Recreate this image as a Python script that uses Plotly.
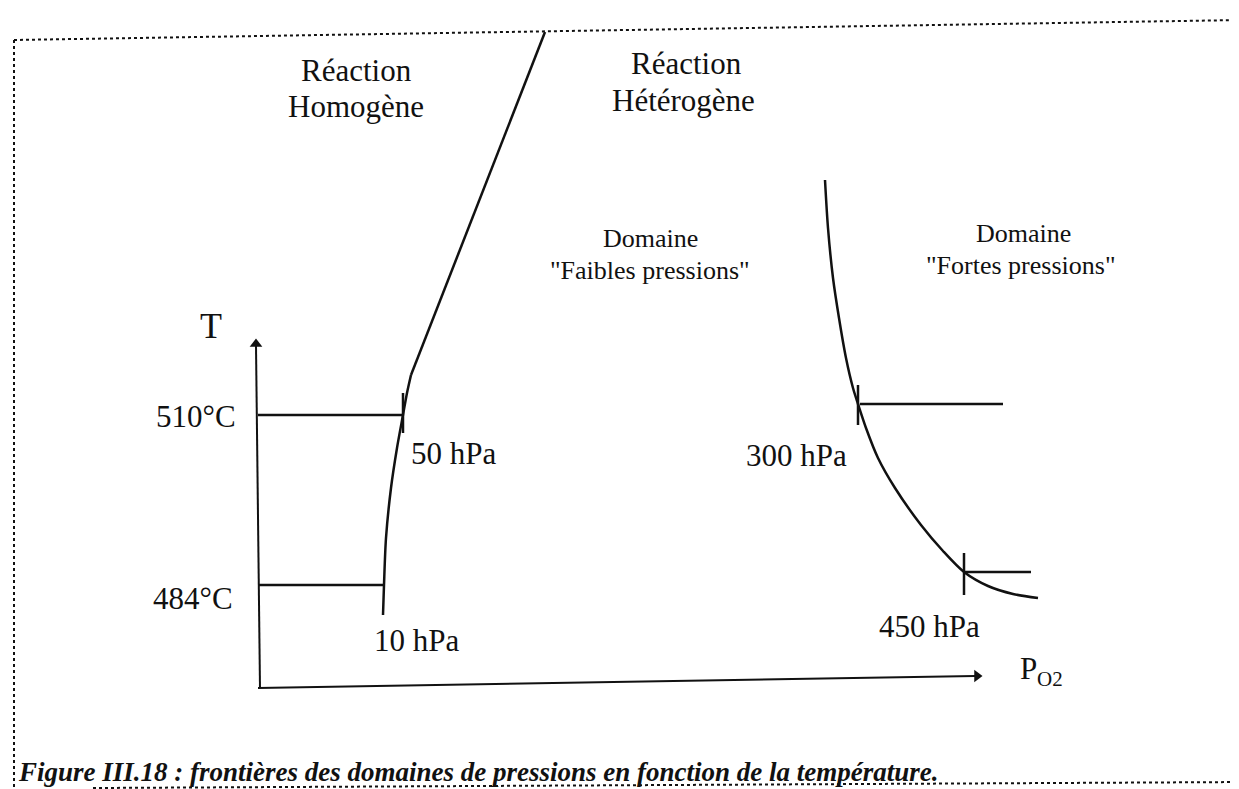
import plotly.graph_objects as go

# Schematic diagram: no numeric scale, values are in drawing units
# (x grows with P_O2, y grows with T)

# boundary homogeneous / heterogeneous reaction (curved part + straight part)
homog_curve_x = [37.5, 37.6, 37.8, 38.3, 38.9, 39.5, 39.9, 40.3]
homog_curve_y = [18.2, 21.2, 25.9, 30.9, 34.9, 38.2, 40.4, 42.2]
homog_line_x = [40.3, 53.7]
homog_line_y = [42.2, 76.5]

# boundary "faibles pressions" / "fortes pressions"
press_curve_x = [81.7, 82.0, 82.5, 83.1, 83.8, 84.5, 85.0, 85.8, 87.0, 88.7,
                 91.3, 93.5, 95.6, 98.0, 100.5, 103.0]
press_curve_y = [61.7, 56.9, 51.9, 47.9, 43.9, 40.9, 39.3, 36.9, 33.9, 30.9,
                 27.2, 24.6, 22.5, 21.1, 20.3, 19.9]

# temperature levels
temp_labels = ["510°C", "484°C"]
temp_y = [38.2, 21.2]
temp_x_end = [39.5, 37.6]

# pressure marks
press_labels = ["50 hPa", "10 hPa", "300 hPa", "450 hPa"]
press_label_x = [44.5, 40.8, 78.8, 92.1]
press_label_y = [34.4, 15.7, 34.2, 17.1]

# horizontal segments right of the high pressure boundary
high_seg_x0 = [85.2, 95.6]
high_seg_x1 = [99.5, 102.3]
high_seg_y = [39.3, 22.5]

# tick marks on the boundaries (x, y_low, y_high)
tick_x = [39.5, 85.0, 95.6]
tick_y0 = [36.4, 37.2, 20.2]
tick_y1 = [40.4, 41.2, 24.4]

# axes (T axis and P_O2 axis), origin and tips
t_axis_x = [25.2, 24.8]
t_axis_y = [10.9, 45.9]
p_axis_x = [25.0, 97.5]
p_axis_y = [10.9, 12.1]

ink = "#111111"
serif = "Liberation Serif, Times New Roman, serif"

fig = go.Figure()


def seg(x, y, width=2.5, shape="linear"):
    fig.add_trace(go.Scatter(x=x, y=y, mode="lines",
                             line=dict(color=ink, width=width, shape=shape, smoothing=0.8),
                             hoverinfo="skip"))


seg(homog_curve_x, homog_curve_y, shape="spline")
seg(homog_line_x, homog_line_y)
seg(press_curve_x, press_curve_y, shape="spline")

# temperature lines from the T axis to the boundary
for y, xe in zip(temp_y, temp_x_end):
    seg([25.0, xe], [y, y])

for x0, x1, y in zip(high_seg_x0, high_seg_x1, high_seg_y):
    seg([x0, x1], [y, y])

for x, y0, y1 in zip(tick_x, tick_y0, tick_y1):
    seg([x, x], [y0, y1])

# axes with arrow heads
seg([t_axis_x[0], t_axis_x[1]], [t_axis_y[0], t_axis_y[1] - 0.8], width=2)
seg([p_axis_x[0], p_axis_x[1] - 0.8], [p_axis_y[0], p_axis_y[1]], width=2)
fig.add_trace(go.Scatter(x=[t_axis_x[1]], y=[t_axis_y[1] - 0.6], mode="markers",
                         marker=dict(symbol="triangle-up", size=11, color=ink),
                         hoverinfo="skip"))
fig.add_trace(go.Scatter(x=[p_axis_x[1] - 0.6], y=[p_axis_y[1]], mode="markers",
                         marker=dict(symbol="triangle-right", size=11, color=ink),
                         hoverinfo="skip"))

annotations = []


def label(text, x, y, size=31, xanchor="center", **font_kw):
    annotations.append(dict(x=x, y=y, xref="x", yref="y", text=text, showarrow=False,
                            xanchor=xanchor, yanchor="middle",
                            font=dict(family=serif, size=size, color=ink, **font_kw)))


label("Réaction", 34.8, 72.7)
label("Homogène", 34.8, 69.1)
label("Réaction", 67.8, 73.4)
label("Hétérogène", 67.5, 69.7)
label("Domaine", 64.2, 55.9, size=26)
label("\"Faibles pressions\"", 64.2, 52.7, size=26)
label("Domaine", 101.5, 56.4, size=26)
label("\"Fortes pressions\"", 101.3, 53.2, size=26)
label("T", 20.3, 47.1, size=36)
label("P", 101.0, 12.9, size=31, xanchor="left")
label("O2", 102.7, 11.8, size=21, xanchor="left")

label(temp_labels[0], 23.0, temp_y[0] - 0.1, xanchor="right")
label(temp_labels[1], 22.7, temp_y[1] - 1.3, xanchor="right")

for t, x, y in zip(press_labels, press_label_x, press_label_y):
    label(t, x, y)

label("Figure III.18 : frontières des domaines de pressions en fonction de la température.",
      0.8, 2.5, size=27, xanchor="left", weight="bold", style="italic")

# dotted frame of the scanned figure
frame = [((0.6, 75.7), (123.3, 77.7)),
         ((0.6, 75.7), (0.6, 0.0)),
         ((123.3, 77.7), (123.3, 72.9)),
         ((8.5, 0.9), (123.9, 1.5))]
shapes = [dict(type="line", xref="x", yref="y", x0=a[0], y0=a[1], x1=b[0], y1=b[1],
               line=dict(color=ink, width=2, dash="dot")) for a, b in frame]

fig.update_layout(
    width=1239, height=789,
    margin=dict(l=0, r=0, t=0, b=0),
    paper_bgcolor="white", plot_bgcolor="white",
    showlegend=False,
    xaxis=dict(range=[0, 123.9], visible=False, fixedrange=True),
    yaxis=dict(range=[0, 78.9], visible=False, fixedrange=True),
    annotations=annotations,
    shapes=shapes,
)

fig.write_html("out.html")
